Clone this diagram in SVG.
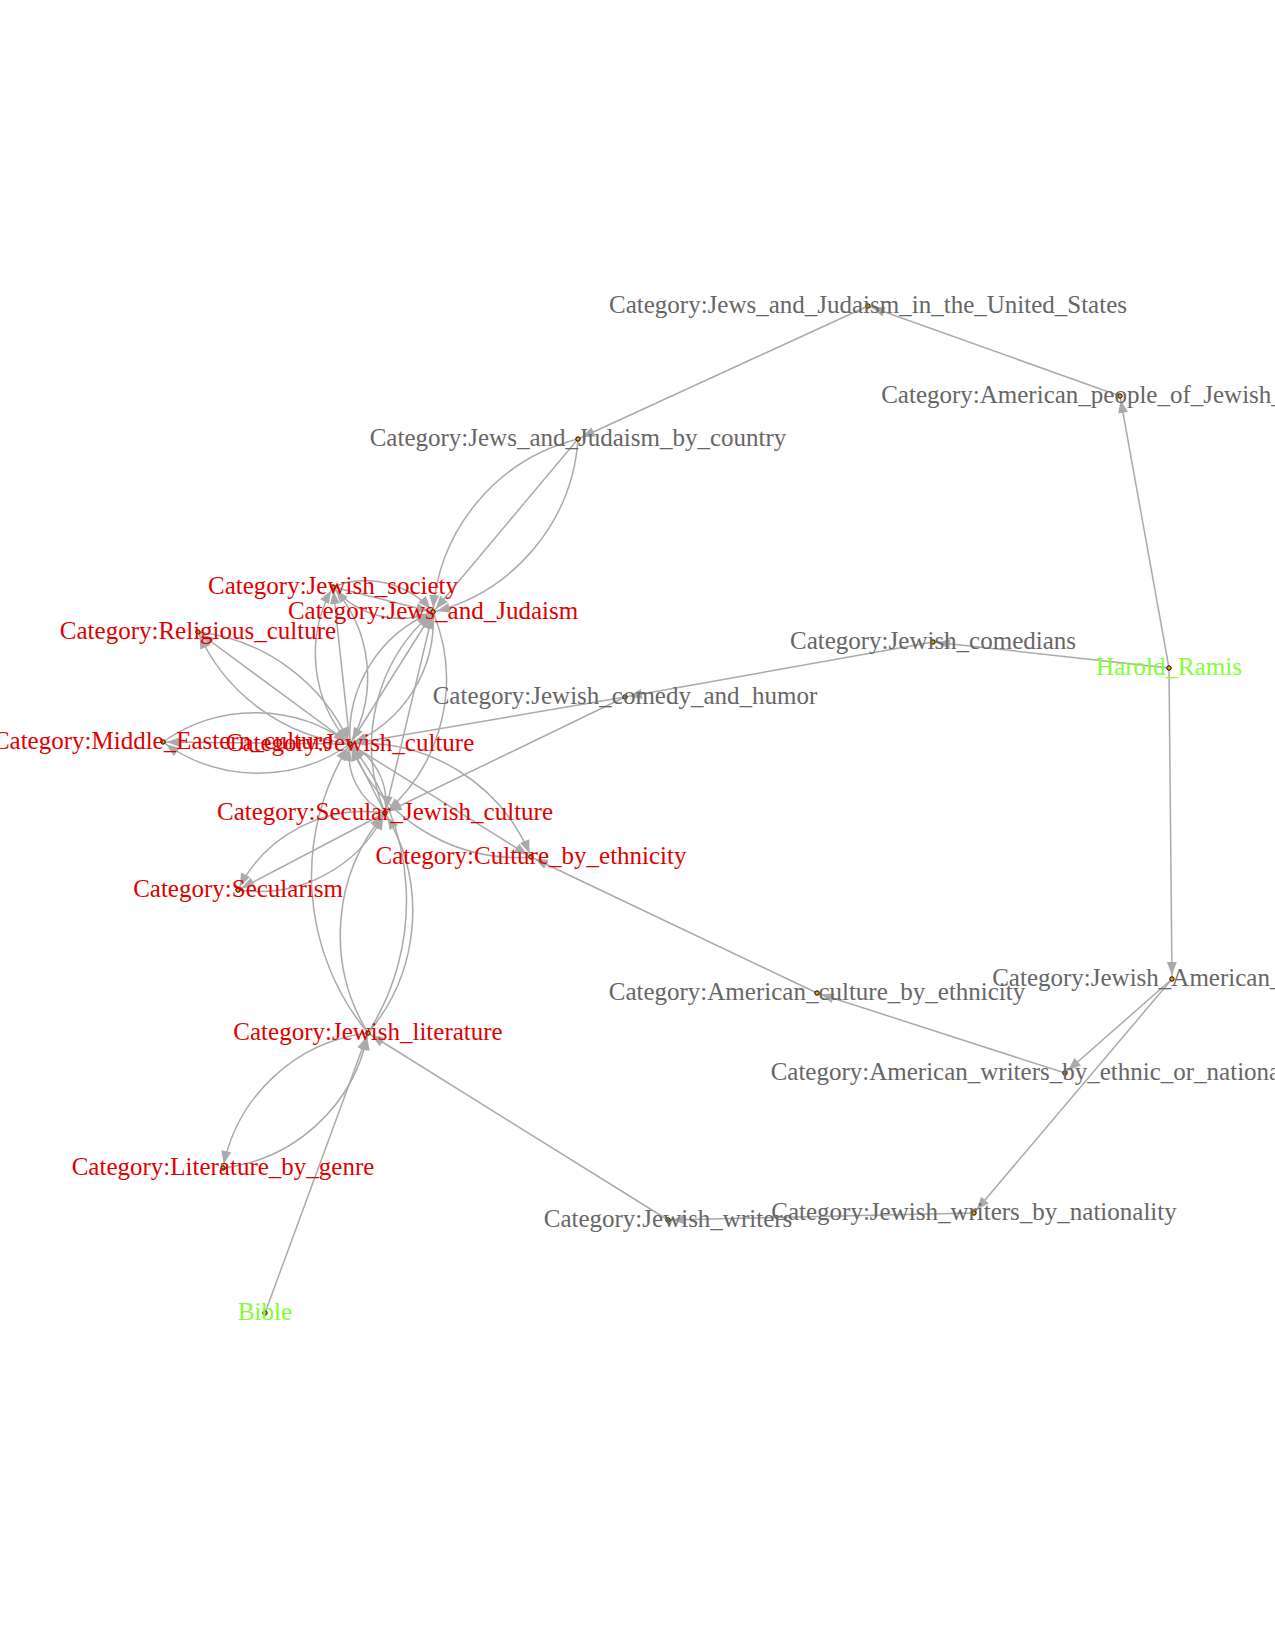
<svg xmlns="http://www.w3.org/2000/svg" width="1275" height="1650" viewBox="0 0 1275 1650">
<defs>
<style>
.link{fill:none;stroke:#aaa;stroke-width:1.5;marker-end:url(#arr)}
.n circle{fill:#f5a800;stroke:#000;stroke-width:1}
.n text{font-family:"Liberation Serif","Times New Roman",serif;font-size:25px;text-anchor:middle}
.red text{fill:#e00000}
.gray text{fill:#666}
.green text{fill:#80ff30}
</style>
<marker id="arr" markerUnits="userSpaceOnUse" viewBox="0 -6 14 12" markerWidth="14" markerHeight="12" refX="17" refY="0" orient="auto" overflow="visible">
<path d="M0,-5 L13,0 L0,5 Z" fill="#aaa"/>
</marker>
</defs>
<rect width="1275" height="1650" fill="#fff"/>
<g id="links">
<path class="link" d="M1120,396 L868,306"/>
<path class="link" d="M868,306 L578,439"/>
<path class="link" d="M1169,668 L1120,396"/>
<path class="link" d="M1169,668 L933,642"/>
<path class="link" d="M1169,668 L1172,979"/>
<path class="link" d="M933,642 L625,697"/>
<path class="link" d="M625,697 L350,744"/>
<path class="link" d="M625,697 L385,813"/>
<path class="link" d="M817,993 L531,857"/>
<path class="link" d="M1065,1073 L817,993"/>
<path class="link" d="M1172,979 L1065,1073"/>
<path class="link" d="M1172,979 L974,1213"/>
<path class="link" d="M974,1213 L668,1220"/>
<path class="link" d="M668,1220 L368,1033"/>
<path class="link" d="M265,1313 L368,1033"/>
<path class="link" d="M578,439 L433,612"/>
<path class="link" d="M578,439 A192,192 0 0,0 433,612"/>
<path class="link" d="M578,439 A192,192 0 0,1 433,612"/>
<path class="link" d="M333,587 L433,612"/>
<path class="link" d="M333,587 A88,88 0 0,1 433,612"/>
<path class="link" d="M433,612 A88,88 0 0,1 333,587"/>
<path class="link" d="M350,744 L198,632"/>
<path class="link" d="M350,744 A190,190 0 0,1 198,632"/>
<path class="link" d="M198,632 A190,190 0 0,1 350,744"/>
<path class="link" d="M350,744 L163,742"/>
<path class="link" d="M350,744 A160,160 0 0,1 163,742"/>
<path class="link" d="M163,742 A160,160 0 0,1 350,744"/>
<path class="link" d="M350,744 L333,587"/>
<path class="link" d="M350,744 A135,135 0 0,1 333,587"/>
<path class="link" d="M333,587 A135,135 0 0,1 350,744"/>
<path class="link" d="M350,744 L433,612"/>
<path class="link" d="M350,744 A133,133 0 0,1 433,612"/>
<path class="link" d="M433,612 A133,133 0 0,1 350,744"/>
<path class="link" d="M385,813 L433,612"/>
<path class="link" d="M385,813 A176,176 0 0,1 433,612"/>
<path class="link" d="M433,612 A176,176 0 0,1 385,813"/>
<path class="link" d="M385,813 L350,744"/>
<path class="link" d="M385,813 A65,65 0 0,1 350,744"/>
<path class="link" d="M350,744 A65,65 0 0,1 385,813"/>
<path class="link" d="M350,744 L531,857"/>
<path class="link" d="M350,744 A181,181 0 0,1 531,857"/>
<path class="link" d="M531,857 A181,181 0 0,1 350,744"/>
<path class="link" d="M385,813 L238,890"/>
<path class="link" d="M385,813 A141,141 0 0,0 238,890"/>
<path class="link" d="M238,890 A141,141 0 0,0 385,813"/>
<path class="link" d="M368,1033 A246,246 0 0,1 350,744"/>
<path class="link" d="M368,1033 A246,246 0 0,0 350,744"/>
<path class="link" d="M368,1033 A188,188 0 0,1 385,813"/>
<path class="link" d="M368,1033 A188,188 0 0,0 385,813"/>
<path class="link" d="M368,1033 A168,168 0 0,0 223,1168"/>
<path class="link" d="M223,1168 A168,168 0 0,0 368,1033"/>
</g>
<g id="node-jus" class="n gray"><circle cx="868" cy="306" r="2.2"/><text x="868" y="313">Category:Jews_and_Judaism_in_the_United_States</text></g>
<g id="node-apj" class="n gray"><circle cx="1120" cy="396" r="2.2"/><text x="1120" y="403">Category:American_people_of_Jewish_descent</text></g>
<g id="node-jbc" class="n gray"><circle cx="578" cy="439" r="2.2"/><text x="578" y="446">Category:Jews_and_Judaism_by_country</text></g>
<g id="node-js" class="n red"><circle cx="333" cy="587" r="2.2"/><text x="333" y="594">Category:Jewish_society</text></g>
<g id="node-jj" class="n red"><circle cx="433" cy="612" r="2.2"/><text x="433" y="619">Category:Jews_and_Judaism</text></g>
<g id="node-rc" class="n red"><circle cx="198" cy="632" r="2.2"/><text x="198" y="639">Category:Religious_culture</text></g>
<g id="node-jcom" class="n gray"><circle cx="933" cy="642" r="2.2"/><text x="933" y="649">Category:Jewish_comedians</text></g>
<g id="node-hr" class="n green"><circle cx="1169" cy="668" r="2.2"/><text x="1169" y="675">Harold_Ramis</text></g>
<g id="node-jch" class="n gray"><circle cx="625" cy="697" r="2.2"/><text x="625" y="704">Category:Jewish_comedy_and_humor</text></g>
<g id="node-me" class="n red"><circle cx="163" cy="742" r="2.2"/><text x="163" y="749">Category:Middle_Eastern_culture</text></g>
<g id="node-jc" class="n red"><circle cx="350" cy="744" r="2.2"/><text x="350" y="751">Category:Jewish_culture</text></g>
<g id="node-sjc" class="n red"><circle cx="385" cy="813" r="2.2"/><text x="385" y="820">Category:Secular_Jewish_culture</text></g>
<g id="node-ce" class="n red"><circle cx="531" cy="857" r="2.2"/><text x="531" y="864">Category:Culture_by_ethnicity</text></g>
<g id="node-sec" class="n red"><circle cx="238" cy="890" r="2.2"/><text x="238" y="897">Category:Secularism</text></g>
<g id="node-jaw" class="n gray"><circle cx="1172" cy="979" r="2.2"/><text x="1172" y="986">Category:Jewish_American_writers</text></g>
<g id="node-ace" class="n gray"><circle cx="817" cy="993" r="2.2"/><text x="817" y="1000">Category:American_culture_by_ethnicity</text></g>
<g id="node-jl" class="n red"><circle cx="368" cy="1033" r="2.2"/><text x="368" y="1040">Category:Jewish_literature</text></g>
<g id="node-awe" class="n gray"><circle cx="1065" cy="1073" r="2.2"/><text x="1065" y="1080">Category:American_writers_by_ethnic_or_national_origin</text></g>
<g id="node-lg" class="n red"><circle cx="223" cy="1168" r="2.2"/><text x="223" y="1175">Category:Literature_by_genre</text></g>
<g id="node-jwn" class="n gray"><circle cx="974" cy="1213" r="2.2"/><text x="974" y="1220">Category:Jewish_writers_by_nationality</text></g>
<g id="node-jw" class="n gray"><circle cx="668" cy="1220" r="2.2"/><text x="668" y="1227">Category:Jewish_writers</text></g>
<g id="node-bible" class="n green"><circle cx="265" cy="1313" r="2.2"/><text x="265" y="1320">Bible</text></g>
</svg>
